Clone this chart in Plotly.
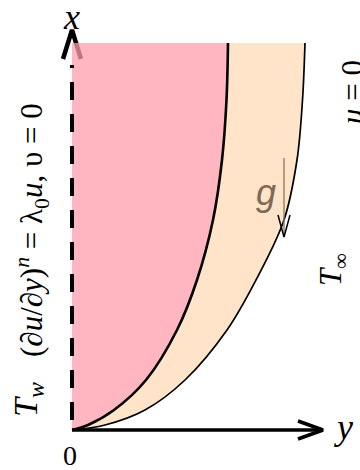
import plotly.graph_objects as go

# Boundary-layer profiles (height along wall, distance from wall)
wall_h = [0, 5, 20, 50, 100, 150, 210, 270, 330, 387]
velocity_edge = [0, 16, 42, 74, 105, 125, 141, 150, 154.5, 156]
thermal_edge = [0, 33, 73, 113, 155, 184, 212, 225, 230.5, 233]

SERIF = "Liberation Serif"
SANS = "Liberation Sans"

fig = go.Figure()

# vertical axis arrowhead (under the translucent pink)
fig.add_trace(go.Scatter(x=[-9, 0, 9], y=[371, 400, 371], mode="lines",
                         line=dict(color="black", width=4.5)))
# pink region
fig.add_trace(go.Scatter(x=velocity_edge, y=wall_h, mode="lines",
                         line=dict(width=0, shape="spline"),
                         fill="tozerox", fillcolor="rgba(255,158,172,0.75)"))
# peach region
fig.add_trace(go.Scatter(x=thermal_edge, y=wall_h, mode="lines",
                         line=dict(width=0, shape="spline"),
                         fill="tonextx", fillcolor="#FFE4C9"))
# curves
fig.add_trace(go.Scatter(x=velocity_edge, y=wall_h, mode="lines",
                         line=dict(color="black", width=2.6, shape="spline")))
fig.add_trace(go.Scatter(x=thermal_edge, y=wall_h, mode="lines",
                         line=dict(color="black", width=1.7, shape="spline")))
# dashed wall
fig.add_trace(go.Scatter(x=[0, 0], y=[10, 365], mode="lines",
                         line=dict(color="black", width=4, dash="18px,14px")))
# horizontal axis
fig.add_trace(go.Scatter(x=[0, 251], y=[0, 0], mode="lines",
                         line=dict(color="black", width=3.5)))
fig.add_trace(go.Scatter(x=[226, 251, 226], y=[9, 0, -9], mode="lines",
                         line=dict(color="black", width=3.5)))
# gravity arrow
fig.add_trace(go.Scatter(x=[212, 212], y=[272, 196], mode="lines",
                         line=dict(color="#8a7862", width=1.3)))
fig.add_trace(go.Scatter(x=[206, 212, 218], y=[215, 193, 215], mode="lines",
                         line=dict(color="black", width=1.5)))

ann = [
    dict(text="<i>x</i>", x=-1, y=413, font=dict(family=SERIF, size=36, color="black")),
    dict(text="<i>y</i>", x=271, y=3, font=dict(family=SERIF, size=36, color="black")),
    dict(text="0", x=-2, y=-25, font=dict(family=SERIF, size=28, color="black")),
    dict(text="(∂<i>u</i>/∂<i>y</i>)<sup><i>n</i></sup> = λ<sub>0</sub><i>u</i>, υ = 0",
         x=-40, y=200, textangle=-90, font=dict(family=SERIF, size=31, color="black")),
    dict(text="<i>T</i><sub><i>w</i></sub>", x=-44, y=30, textangle=-90,
         font=dict(family=SERIF, size=34, color="black")),
    dict(text="<i>T</i><sub>∞</sub>", x=261, y=160, textangle=-90,
         font=dict(family=SERIF, size=31, color="black")),
    dict(text="<i>u</i> = 0", x=280, y=338, textangle=-90,
         font=dict(family=SERIF, size=31, color="black")),
    dict(text="<i>g</i>", x=194, y=238, font=dict(family=SANS, size=36, color="#7f6a55")),
]
for a in ann:
    a.update(xref="x", yref="y", showarrow=False)

fig.update_layout(
    width=360, height=470, margin=dict(l=0, r=0, t=0, b=0),
    paper_bgcolor="white", plot_bgcolor="white", showlegend=False,
    font=dict(family=SERIF, color="black"),
    xaxis=dict(range=[-72, 288], visible=False, fixedrange=True),
    yaxis=dict(range=[-40, 430], visible=False, fixedrange=True),
    annotations=ann,
)

fig.write_html("out.html")
